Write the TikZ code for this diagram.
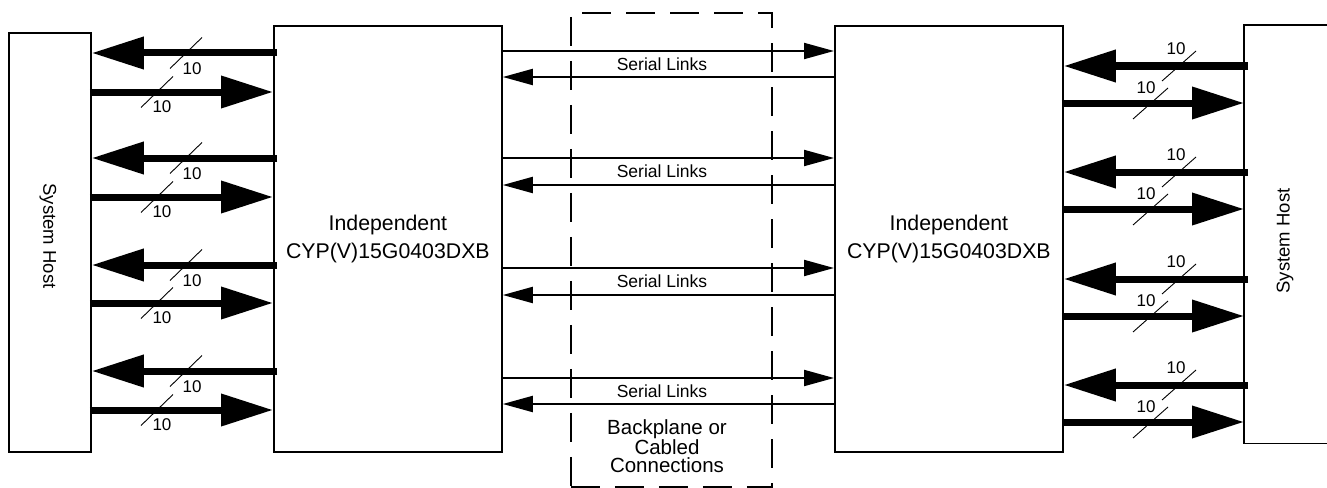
\documentclass[tikz,border=0pt]{standalone}
\usepackage{fontspec}
\setmainfont{Liberation Sans}
\usetikzlibrary{arrows.meta}
\begin{document}
\begin{tikzpicture}[x=1pt,y=-1pt,
  box/.style={draw, line width=1.8pt, inner sep=0pt, anchor=north west},
  dashbox/.style={draw, line width=1.6pt, inner sep=0pt, anchor=north west, dash pattern=on 29pt off 15pt},
  big/.style={line width=7pt, -{Triangle[length=52pt,width=31pt]}},
  ser/.style={line width=2pt, -{Triangle[length=30pt,width=16pt]}},
  tick/.style={line width=0.9pt},
  bus/.style={font=\fontsize{17}{17}\selectfont, inner sep=0pt},
  serlab/.style={font=\fontsize{17.5}{18}\selectfont, inner sep=0pt},
  chiptext/.style={align=center, font=\fontsize{21.3}{28}\selectfont, inner sep=0pt},
  hosttext/.style={font=\fontsize{18.5}{20}\selectfont, inner sep=0pt},
  bptext/.style={align=center, font=\fontsize{20.5}{18.5}\selectfont, inner sep=0pt}
]
\useasboundingbox (0,0) rectangle (1327,487);

% boxes
\node[box, minimum width=82pt, minimum height=419pt] (hostL) at (8,32) {};
\node[box, minimum width=228pt, minimum height=426pt] (chipL) at (273,25) {};
\node[box, minimum width=228pt, minimum height=426pt] (chipR) at (834,25) {};
\node[inner sep=0pt, anchor=north west, minimum width=100pt, minimum height=418pt] (hostR) at (1244,25) {};
\draw[line width=1.8pt] (hostR.north east) -- (hostR.north west) -- (hostR.south west) -- (hostR.south east);
\node[dashbox, minimum width=201pt, minimum height=474pt] (bp) at (570,12) {};

% texts
\node[hosttext, rotate=-90] (hlt) at (48,236) {System Host};
\node[hosttext, rotate=90] (hrt) at (1285,241) {System Host};
\node[chiptext] (clt) at (chipL.center) {Independent\\CYP(V)15G0403DXB};
\node[chiptext] (crt) at (chipR.center) {Independent\\CYP(V)15G0403DXB};
\node[bptext] (bpt) at (667,446) {Backplane or\\Cabled\\Connections};

% serial links
\foreach \a/\b in {51/77,158/185,268/295,378/404} {
  \draw[ser] (chipL.east |- 0,\a) -- (chipR.west |- 0,\a);
  \draw[ser] (chipR.west |- 0,\b) -- (chipL.east |- 0,\b);
  \node[serlab] at (662,{(\a+\b)/2}) {Serial Links};
}

% left side buses
\foreach \a/\b in {53/92,158/197,265/303,371/410} {
  \draw[big] ([xshift=4pt]chipL.west |- 0,\a) -- (hostL.east |- 0,\a);
  \draw[tick] (170,{\a+15.5}) -- (202,{\a-15.5});
  \node[bus] at (192,{\a+15.5}) {10};
  \draw[big] ([xshift=-2pt]hostL.east |- 0,\b) -- (chipL.west |- 0,\b);
  \draw[tick] (141,{\b+15.5}) -- (173,{\b-15.5});
  \node[bus] at (162,{\b+15}) {10};
}

% right side buses
\foreach \a/\b in {66/103,172/209,279/316,385/422} {
  \draw[big] ([xshift=4pt]hostR.west |- 0,\a) -- (chipR.east |- 0,\a);
  \draw[tick] (1162,{\a+15}) -- (1196,{\a-15});
  \node[bus] at (1176,{\a-17}) {10};
  \draw[big] ([xshift=-2pt]chipR.east |- 0,\b) -- (hostR.west |- 0,\b);
  \draw[tick] (1133,{\b+16}) -- (1168,{\b-15});
  \node[bus] at (1146,{\b-15.5}) {10};
}
\end{tikzpicture}
\end{document}
